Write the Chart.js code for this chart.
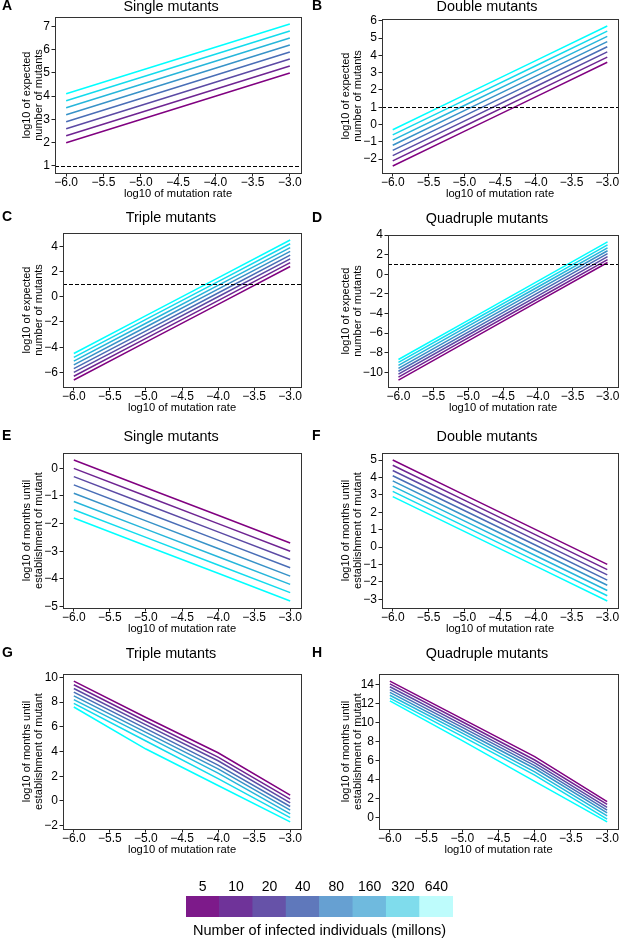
<!DOCTYPE html>
<html>
<head>
<meta charset="utf-8">
<script src="https://cdn.jsdelivr.net/npm/chart.js@4.4.0/dist/chart.umd.min.js"></script>
<style>
  html, body { margin: 0; padding: 0; background: #fff; width: 620px; height: 939px; overflow: hidden; position: relative; }
  canvas { position: absolute; }
</style>
</head>
<body>
<script>
// log10 of mutation rate
const mutationRates = [-6, -5, -4, -3];
const xTicks = [-6, -5.5, -5, -4.5, -4, -3.5, -3];
// number of infected individuals (millions), one line per size
const infectedMillions = ['5', '10', '20', '40', '80', '160', '320', '640'];
const colorbarCells = [1, 1, 1, 1, 1, 1, 1, 1];
const threshold = 1;

// log10 of expected number of mutants
const singleExpected = [
  [2.0, 3.0, 4.0, 5.0], [2.3, 3.3, 4.3, 5.3], [2.6, 3.6, 4.6, 5.6], [2.9, 3.9, 4.9, 5.9],
  [3.2, 4.2, 5.2, 6.2], [3.5, 4.5, 5.5, 6.5], [3.8, 4.8, 5.8, 6.8], [4.1, 5.1, 6.1, 7.1]
];
const doubleExpected = [
  [-2.4, -0.4, 1.6, 3.6], [-2.1, -0.1, 1.9, 3.9], [-1.8, 0.2, 2.2, 4.2], [-1.5, 0.5, 2.5, 4.5],
  [-1.2, 0.8, 2.8, 4.8], [-0.9, 1.1, 3.1, 5.1], [-0.6, 1.4, 3.4, 5.4], [-0.3, 1.7, 3.7, 5.7]
];
const tripleExpected = [
  [-6.6, -3.6, -0.6, 2.4], [-6.3, -3.3, -0.3, 2.7], [-6.0, -3.0, 0.0, 3.0], [-5.7, -2.7, 0.3, 3.3],
  [-5.4, -2.4, 0.6, 3.6], [-5.1, -2.1, 0.9, 3.9], [-4.8, -1.8, 1.2, 4.2], [-4.5, -1.5, 1.5, 4.5]
];
const quadExpected = [
  [-10.8, -6.8, -2.8, 1.2], [-10.5, -6.5, -2.5, 1.5], [-10.2, -6.2, -2.2, 1.8], [-9.9, -5.9, -1.9, 2.1],
  [-9.6, -5.6, -1.6, 2.4], [-9.3, -5.3, -1.3, 2.7], [-9.0, -5.0, -1.0, 3.0], [-8.7, -4.7, -0.7, 3.3]
];

// log10 of months until establishment of mutant
const singleMonths = [
  [0.3, -0.7, -1.7, -2.7], [0.0, -1.0, -2.0, -3.0], [-0.3, -1.3, -2.3, -3.3], [-0.6, -1.6, -2.6, -3.6],
  [-0.9, -1.9, -2.9, -3.9], [-1.2, -2.2, -3.2, -4.2], [-1.5, -2.5, -3.5, -4.5], [-1.8, -2.8, -3.8, -4.8]
];
const doubleMonths = [
  [5.0, 3.0, 1.0, -1.0], [4.7, 2.7, 0.7, -1.3], [4.4, 2.4, 0.4, -1.6], [4.1, 2.1, 0.1, -1.9],
  [3.8, 1.8, -0.2, -2.2], [3.5, 1.5, -0.5, -2.5], [3.2, 1.2, -0.8, -2.8], [2.9, 0.9, -1.1, -3.1]
];
const tripleMonths = [
  [9.7, 6.75, 3.9, 0.47], [9.4, 6.45, 3.55, 0.15], [9.1, 6.15, 3.25, -0.15], [8.8, 5.85, 2.9, -0.45],
  [8.5, 5.55, 2.6, -0.75], [8.2, 5.25, 2.25, -1.05], [7.9, 4.85, 1.8, -1.35], [7.6, 4.2, 1.25, -1.7]
];
const quadMonths = [
  [14.4, 10.4, 6.4, 1.65], [14.1, 10.1, 6.05, 1.35], [13.8, 9.8, 5.75, 1.05], [13.5, 9.5, 5.45, 0.75],
  [13.2, 9.2, 5.15, 0.45], [12.9, 8.9, 4.8, 0.15], [12.6, 8.55, 4.45, -0.2], [12.3, 8.1, 3.8, -0.5]
];

const lineColors = ['#800080', '#6e2492', '#5b49a4', '#496db6', '#3792c8', '#25b6db', '#12dbed', '#00ffff'];
const legendColors = ['#7d1a8a', '#6f3399', '#6652a8', '#5f78bb', '#66a0d2', '#6fbade', '#7fdcec', '#befcfc'];

const expectedLabel = ['log10 of expected', 'number of mutants'];
const monthsLabel = ['log10 of months until', 'establishment of mutant'];

const plotFont = 'Liberation Sans';
const figFont = 'Liberation Sans';

// page layout of each panel
const panels = [
  { letter: 'A', title: 'Single mutants', rows: singleExpected, yTicks: [1, 2, 3, 4, 5, 6, 7], ylabel: expectedLabel, ref: threshold,
    col: 0, titleY: 7, plot: { l: 55, t: 17, r: 301, b: 173 } },
  { letter: 'B', title: 'Double mutants', rows: doubleExpected, yTicks: [-2, -1, 0, 1, 2, 3, 4, 5, 6], ylabel: expectedLabel, ref: threshold,
    col: 1, titleY: 7, plot: { l: 382, t: 19, r: 618, b: 173 } },
  { letter: 'C', title: 'Triple mutants', rows: tripleExpected, yTicks: [-6, -4, -2, 0, 2, 4], ylabel: expectedLabel, ref: threshold,
    col: 0, titleY: 218, plot: { l: 63, t: 233, r: 301, b: 387 } },
  { letter: 'D', title: 'Quadruple mutants', rows: quadExpected, yTicks: [-10, -8, -6, -4, -2, 0, 2, 4], ylabel: expectedLabel, ref: threshold,
    col: 1, titleY: 219, plot: { l: 388, t: 235, r: 618, b: 387 } },
  { letter: 'E', title: 'Single mutants', rows: singleMonths, yTicks: [-5, -4, -3, -2, -1, 0], ylabel: monthsLabel, ref: null,
    col: 0, titleY: 437, plot: { l: 63, t: 453, r: 301, b: 608 } },
  { letter: 'F', title: 'Double mutants', rows: doubleMonths, yTicks: [-3, -2, -1, 0, 1, 2, 3, 4, 5], ylabel: monthsLabel, ref: null,
    col: 1, titleY: 437, plot: { l: 382, t: 453, r: 618, b: 608 } },
  { letter: 'G', title: 'Triple mutants', rows: tripleMonths, yTicks: [-2, 0, 2, 4, 6, 8, 10], ylabel: monthsLabel, ref: null,
    col: 0, titleY: 654, plot: { l: 63, t: 674, r: 301, b: 829 } },
  { letter: 'H', title: 'Quadruple mutants', rows: quadMonths, yTicks: [0, 2, 4, 6, 8, 10, 12, 14], ylabel: monthsLabel, ref: null,
    col: 1, titleY: 654, plot: { l: 379, t: 674, r: 618, b: 829 } }
];
const columns = [
  { left: 0, width: 342, ylabelX: 27, letterX: 2 },
  { left: 310, width: 354, ylabelX: 346, letterX: 312 }
];

const fmtTick = (v, digits) => v.toFixed(digits).replace('-', '\u2212');

// matplotlib-like autoscale: data range plus 5% margin
function padRange(values) {
  const lo = Math.min(...values), hi = Math.max(...values);
  const m = (hi - lo) * 0.05;
  return [lo - m, hi + m];
}

const decor = {
  id: 'decor',
  afterDatasetsDraw(chart, args, opts) {
    const { ctx, chartArea: a } = chart;
    ctx.save();
    if (opts.ref !== null && opts.ref !== undefined) {
      const y = Math.round(chart.scales.y.getPixelForValue(opts.ref)) + 0.5;
      ctx.strokeStyle = '#000';
      ctx.lineWidth = 1.2;
      ctx.setLineDash([4, 2]);
      ctx.beginPath();
      ctx.moveTo(a.left, y);
      ctx.lineTo(a.right, y);
      ctx.stroke();
      ctx.setLineDash([]);
    }
    ctx.strokeStyle = '#333';
    ctx.lineWidth = 1;
    ctx.strokeRect(Math.round(a.left) + 0.5, Math.round(a.top) + 0.5, Math.round(a.right - a.left), Math.round(a.bottom - a.top));
    ctx.restore();
  },
  afterDraw(chart, args, opts) {
    const { ctx } = chart;
    ctx.save();
    ctx.fillStyle = '#000';
    ctx.font = 'bold 14px "' + figFont + '"';
    ctx.textAlign = 'left';
    ctx.textBaseline = 'middle';
    ctx.fillText(opts.letter, opts.x, opts.y);
    ctx.restore();
  }
};

panels.forEach(p => {
  const c = columns[p.col];
  const top = p.titleY - 7;
  const height = p.plot.b + 30 - top;
  const cv = document.createElement('canvas');
  cv.width = c.width;
  cv.height = height;
  cv.style.left = c.left + 'px';
  cv.style.top = top + 'px';
  cv.style.width = c.width + 'px';
  cv.style.height = height + 'px';
  document.body.appendChild(cv);

  const [xMin, xMax] = padRange(mutationRates);
  const yVals = p.rows.flat().concat(p.ref !== null ? [p.ref] : []);
  const [yMin, yMax] = padRange(yVals);
  const tickFont = { family: plotFont, size: 12, lineHeight: 1 };
  const axisGrid = { drawOnChartArea: false, drawTicks: true, tickLength: 3.5, color: '#222' };
  const rightGap = c.left + c.width - p.plot.r;

  new Chart(cv, {
    type: 'line',
    data: {
      datasets: p.rows.map((row, i) => ({
        label: infectedMillions[i],
        data: row.map((y, j) => ({ x: mutationRates[j], y })),
        borderColor: lineColors[i],
        borderWidth: 1.5,
        pointRadius: 0,
        fill: false,
        tension: 0
      }))
    },
    options: {
      responsive: false,
      animation: false,
      devicePixelRatio: 1,
      layout: { padding: 0 },
      plugins: {
        legend: { display: false },
        tooltip: { enabled: false },
        title: {
          display: true, text: p.title, color: '#000',
          font: { family: plotFont, size: 14.4, weight: 'normal', lineHeight: '14px' },
          padding: { top: 0, bottom: p.plot.t - top - 14 }
        },
        decor: { ref: p.ref, letter: p.letter, x: c.letterX - c.left, y: p.titleY - top - 1 }
      },
      scales: {
        x: {
          type: 'linear', min: xMin, max: xMax,
          afterBuildTicks: s => { s.ticks = xTicks.map(v => ({ value: v })); },
          afterFit: s => { s.height = 30; },
          ticks: { callback: v => fmtTick(v, 1), font: tickFont, color: '#000', padding: 0.5, maxRotation: 0, autoSkip: false },
          grid: axisGrid,
          border: { display: false },
          title: {
            display: true, text: 'log10 of mutation rate', color: '#000',
            font: { family: plotFont, size: 11.2, lineHeight: '12px' },
            padding: { top: 0, bottom: 3 }
          }
        },
        y: {
          type: 'linear', min: yMin, max: yMax,
          afterBuildTicks: s => { s.ticks = p.yTicks.map(v => ({ value: v })); },
          afterFit: s => { s.width = p.plot.l - c.left; },
          ticks: { callback: v => fmtTick(v, 0), font: tickFont, color: '#000', padding: 1.5, autoSkip: false },
          grid: axisGrid,
          border: { display: false },
          title: {
            display: true, text: p.ylabel, color: '#000',
            font: { family: plotFont, size: 11, lineHeight: '11.5px' },
            padding: { top: c.ylabelX - c.left - 5.75, bottom: 0 }
          }
        },
        // empty right-hand gutter so the title stays centred on the whole panel
        gutter: {
          type: 'linear', position: 'right', display: true,
          grid: { display: false, drawTicks: false },
          border: { display: false },
          ticks: { display: false },
          afterFit: s => { s.width = rightGap; }
        }
      }
    },
    plugins: [decor]
  });
});

// colour key for the population sizes
const cb = document.createElement('canvas');
cb.width = 340; cb.height = 64;
cb.style.left = '150px'; cb.style.top = '875px';
cb.style.width = '340px'; cb.style.height = '64px';
document.body.appendChild(cb);

new Chart(cb, {
  type: 'bar',
  data: {
    labels: infectedMillions,
    datasets: [{
      data: colorbarCells,
      backgroundColor: legendColors,
      borderWidth: 0,
      barPercentage: 1,
      categoryPercentage: 1
    }]
  },
  options: {
    responsive: false,
    animation: false,
    devicePixelRatio: 1,
    layout: { padding: { left: 36, right: 37, top: 0, bottom: 0 } },
    plugins: {
      legend: { display: false },
      tooltip: { enabled: false },
      title: {
        display: true, position: 'bottom', text: 'Number of infected individuals (millons)', color: '#000',
        font: { family: figFont, size: 14.5, weight: 'normal', lineHeight: '16px' },
        padding: { top: 6, bottom: 0 }
      }
    },
    scales: {
      x: {
        position: 'top',
        grid: { display: false, drawTicks: false },
        border: { display: false },
        ticks: { font: { family: figFont, size: 14 }, color: '#000', padding: 0 },
        afterFit: s => { s.height = 21; }
      },
      y: { display: false, min: 0, max: 1 }
    }
  }
});
</script>
</body>
</html>
